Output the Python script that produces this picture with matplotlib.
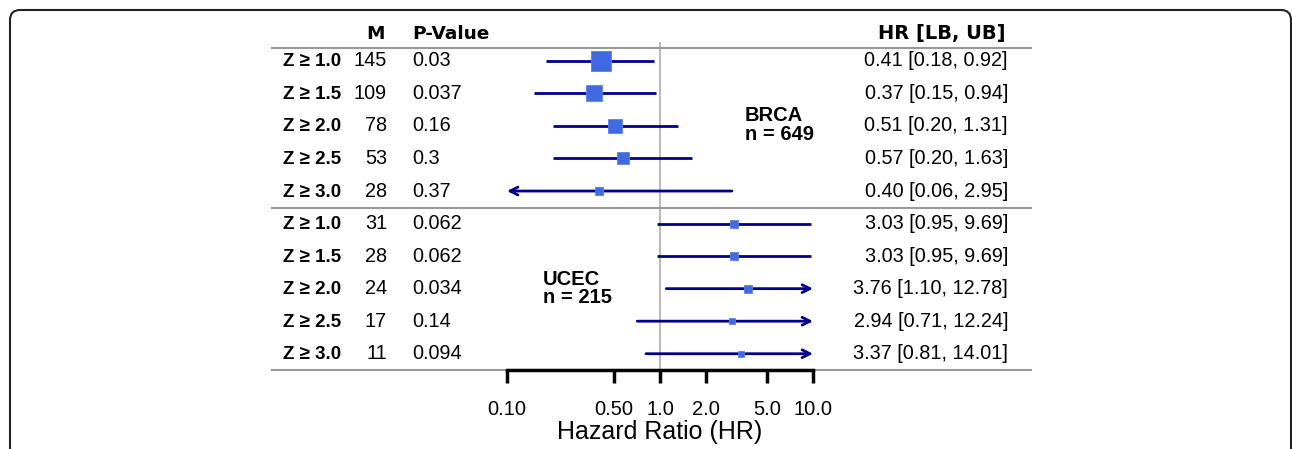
import numpy as np
from matplotlib import pyplot as plt
from matplotlib import transforms
from matplotlib.patches import FancyBboxPatch

# rows: BRCA first, then UCEC
labels = ['Z ≥ 1.0', 'Z ≥ 1.5', 'Z ≥ 2.0', 'Z ≥ 2.5', 'Z ≥ 3.0'] * 2
m_vals = [145, 109, 78, 53, 28, 31, 28, 24, 17, 11]
p_vals = ['0.03', '0.037', '0.16', '0.3', '0.37',
          '0.062', '0.062', '0.034', '0.14', '0.094']
hr = [0.41, 0.37, 0.51, 0.57, 0.40, 3.03, 3.03, 3.76, 2.94, 3.37]
lb = [0.18, 0.15, 0.20, 0.20, 0.06, 0.95, 0.95, 1.10, 0.71, 0.81]
ub = [0.92, 0.94, 1.31, 1.63, 2.95, 9.69, 9.69, 12.78, 12.24, 14.01]
groups = ['BRCA\nn = 649', 'UCEC\nn = 215']
xticks = [0.1, 0.5, 1.0, 2.0, 5.0, 10.0]
xticklabels = ['0.10', '0.50', '1.0', '2.0', '5.0', '10.0']

W, H = 1292, 449
navy = '#00008B'
blue = '#4169E1'
gray = '#999999'
sans = 'Liberation Sans'

fig = plt.figure(figsize=(W / 100, H / 100), dpi=100)
ax = fig.add_axes([507 / W, 79 / H, (813 - 507) / W, 328 / H])
ax.set_xscale('log')
xmin, xmax = 0.1, 10.0
ax.set_xlim(xmin, xmax)
ax.set_ylim(9.5, -0.58)

# pixel x, data y
tr = transforms.blended_transform_factory(fig.transFigure, ax.transData)
def px(x):
    return x / W

n = len(hr)
for i in range(n):
    lo, hi = max(lb[i], xmin), min(ub[i], xmax)
    if lb[i] < xmin:
        ax.annotate('', xy=(lo, i), xytext=(hi, i),
                    arrowprops=dict(arrowstyle='->', color=navy, lw=2, mutation_scale=14,
                                    shrinkA=0, shrinkB=0), annotation_clip=False)
    elif ub[i] > xmax:
        ax.annotate('', xy=(hi, i), xytext=(lo, i),
                    arrowprops=dict(arrowstyle='->', color=navy, lw=2, mutation_scale=14,
                                    shrinkA=0, shrinkB=0), annotation_clip=False)
    else:
        ax.plot([lo, hi], [i, i], color=navy, lw=2, solid_capstyle='butt')
    ax.plot(hr[i], i, marker='s', ms=1.14 * np.sqrt(m_vals[i]), color=blue,
            mec='#5a80ea', mew=0.6, zorder=4)

    ax.text(px(283), i + 0.03, labels[i], transform=tr, ha='left', va='center',
            fontsize=13.5, fontweight='bold', family=sans)
    ax.text(px(387), i, str(m_vals[i]), transform=tr, ha='right', va='center',
            fontsize=14.3, family=sans)
    ax.text(px(412), i, p_vals[i], transform=tr, ha='left', va='center',
            fontsize=14.3, family=sans)
    ax.text(px(1008), i, f'{hr[i]:.2f} [{lb[i]:.2f}, {ub[i]:.2f}]', transform=tr,
            ha='right', va='center', fontsize=14.3, family=sans)

# headers
hy = -0.83
ax.text(px(385), hy, 'M', transform=tr, ha='right', va='center', fontsize=13.3,
        fontweight='bold', family='DejaVu Sans')
ax.text(px(412), hy, 'P-Value', transform=tr, ha='left', va='center', fontsize=13.3,
        fontweight='bold', family='DejaVu Sans')
ax.text(px(1006), hy, 'HR [LB, UB]', transform=tr, ha='right', va='center', fontsize=14,
        fontweight='bold', family='DejaVu Sans')

# group labels
ax.text(px(745), 1.97, groups[0], transform=tr, ha='left', va='center', fontsize=14.5,
        fontweight='bold', family=sans, linespacing=0.95)
ax.text(px(543), 7.0, groups[1], transform=tr, ha='left', va='center', fontsize=14.5,
        fontweight='bold', family=sans, linespacing=0.95)

# separators and reference line
for yy in [-0.4, 4.53, 9.49]:
    ax.plot([px(272), px(1031)], [yy, yy], transform=tr, color=gray, lw=1.5,
            clip_on=False, zorder=1)
ax.axvline(1.0, color='#bbbbbb', lw=1.5, zorder=0)

for s in ['top', 'right', 'left']:
    ax.spines[s].set_visible(False)
ax.spines['bottom'].set_linewidth(2.5)
ax.spines['bottom'].set_zorder(5)
ax.set_yticks([])
ax.set_xticks(xticks)
ax.set_xticklabels(xticklabels, family=sans, fontsize=14.5)
ax.minorticks_off()
ax.tick_params(axis='x', direction='out', length=9.5, width=2.5, pad=12)
ax.set_xlabel('Hazard Ratio (HR)', family=sans, fontsize=18, labelpad=1)

# outer frame
frame = FancyBboxPatch((10, -30), 1281, 30 + H - 10, boxstyle='round,pad=0,rounding_size=10',
                       transform=transforms.IdentityTransform(), fill=False,
                       ec='#222222', lw=1.5, clip_on=False)
fig.patches.append(frame)

fig.savefig('out.png', dpi=100)
